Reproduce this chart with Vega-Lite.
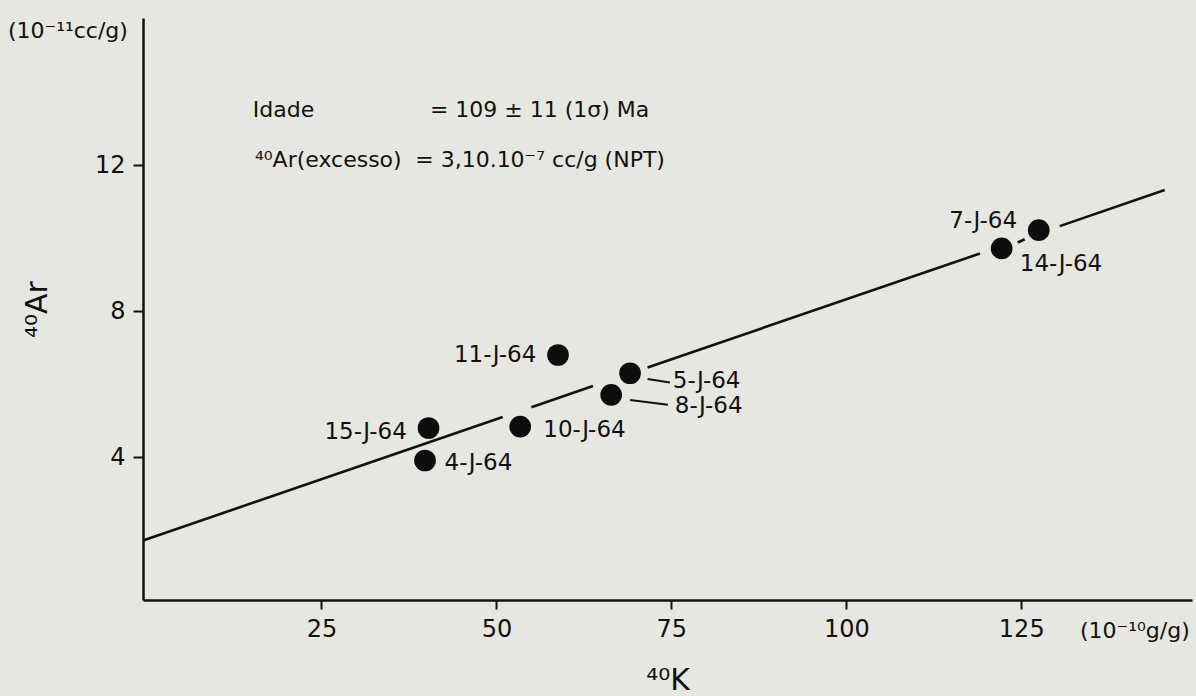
{
  "$schema": "https://vega.github.io/schema/vega-lite/v6.json",
  "width": 1049,
  "height": 582,
  "autosize": "none",
  "padding": {"left": 143, "top": 18, "right": 4, "bottom": 96},
  "background": "#e7e7e1",
  "config": {
    "view": {"stroke": null},
    "font": "DejaVu Sans",
    "axis": {
      "domainColor": "#111111",
      "domainWidth": 2.5,
      "tickColor": "#111111",
      "tickWidth": 2,
      "grid": false,
      "labelColor": "#111111",
      "labelFont": "DejaVu Sans",
      "labelFontSize": 24,
      "titleColor": "#111111",
      "titleFont": "DejaVu Sans",
      "titleFontWeight": "normal",
      "titleFontSize": 30
    }
  },
  "datasets": {
    "points": [
      {"sample": "7-J-64", "k": 127.5, "ar": 10.22},
      {"sample": "14-J-64", "k": 122.2, "ar": 9.72},
      {"sample": "11-J-64", "k": 58.8, "ar": 6.80},
      {"sample": "5-J-64", "k": 69.1, "ar": 6.30},
      {"sample": "8-J-64", "k": 66.4, "ar": 5.71},
      {"sample": "10-J-64", "k": 53.4, "ar": 4.84},
      {"sample": "15-J-64", "k": 40.3, "ar": 4.80},
      {"sample": "4-J-64", "k": 39.8, "ar": 3.91}
    ],
    "isochron": [
      {"seg": "A", "k": -0.5, "ar": 1.72},
      {"seg": "A", "k": 50.9, "ar": 5.10},
      {"seg": "B", "k": 55.0, "ar": 5.37},
      {"seg": "B", "k": 63.8, "ar": 5.95},
      {"seg": "C", "k": 71.6, "ar": 6.46},
      {"seg": "C", "k": 119.1, "ar": 9.58},
      {"seg": "D", "k": 124.5, "ar": 9.88},
      {"seg": "D", "k": 125.5, "ar": 9.97},
      {"seg": "E", "k": 130.5, "ar": 10.33},
      {"seg": "E", "k": 145.5, "ar": 11.32}
    ],
    "leaders": [
      {"sample": "5-J-64", "k": 71.6, "ar": 6.14, "k2": 74.8, "ar2": 6.05},
      {"sample": "8-J-64", "k": 69.1, "ar": 5.57, "k2": 74.5, "ar2": 5.44}
    ],
    "labelsRight": [
      {"sample": "7-J-64", "k": 124.4, "ar": 10.47},
      {"sample": "11-J-64", "k": 55.7, "ar": 6.80},
      {"sample": "15-J-64", "k": 37.2, "ar": 4.70}
    ],
    "labelsLeft": [
      {"sample": "14-J-64", "k": 124.8, "ar": 9.29},
      {"sample": "4-J-64", "k": 42.6, "ar": 3.84},
      {"sample": "10-J-64", "k": 56.7, "ar": 4.75},
      {"sample": "5-J-64", "k": 75.2, "ar": 6.08},
      {"sample": "8-J-64", "k": 75.5, "ar": 5.39}
    ],
    "notes": [
      {"text": "Idade", "k": 15.2, "ar": 13.32},
      {"text": "= 109 ± 11 (1σ) Ma", "k": 40.5, "ar": 13.32},
      {"text": "⁴⁰Ar(excesso)", "k": 15.5, "ar": 11.95},
      {"text": "= 3,10.10⁻⁷ cc/g (NPT)", "k": 38.4, "ar": 11.95}
    ],
    "units": [
      {"text": "(10⁻¹¹cc/g)", "k": -19.8, "ar": 15.67},
      {"text": "(10⁻¹⁰g/g)", "k": 133.4, "ar": -0.75}
    ]
  },
  "encoding": {
    "x": {
      "field": "k",
      "type": "quantitative",
      "scale": {"domain": [-0.5, 149.4], "nice": false, "zero": false},
      "axis": {"values": [25, 50, 75, 100, 125], "tickSize": 9, "labelPadding": 8, "title": "⁴⁰K", "titlePadding": 24}
    },
    "y": {
      "field": "ar",
      "type": "quantitative",
      "scale": {"domain": [0.09, 16.03], "nice": false, "zero": false},
      "axis": {"values": [4, 8, 12], "tickSize": 10, "labelPadding": 8, "title": "⁴⁰Ar", "titlePadding": 42}
    }
  },
  "layer": [
    {
      "data": {"name": "isochron"},
      "mark": {"type": "line", "color": "#111111", "strokeWidth": 2.6, "clip": false},
      "encoding": {"detail": {"field": "seg"}}
    },
    {
      "data": {"name": "leaders"},
      "mark": {"type": "rule", "color": "#111111", "strokeWidth": 2},
      "encoding": {
        "x2": {"field": "k2"},
        "y2": {"field": "ar2"}
      }
    },
    {
      "data": {"name": "points"},
      "mark": {"type": "circle", "color": "#0d0d0d", "opacity": 1, "size": 470},
      "encoding": {"tooltip": {"field": "sample"}}
    },
    {
      "data": {"name": "labelsRight"},
      "mark": {"type": "text", "align": "right", "baseline": "middle", "fontSize": 23, "color": "#111111"},
      "encoding": {"text": {"field": "sample"}}
    },
    {
      "data": {"name": "labelsLeft"},
      "mark": {"type": "text", "align": "left", "baseline": "middle", "fontSize": 23, "color": "#111111"},
      "encoding": {"text": {"field": "sample"}}
    },
    {
      "data": {"name": "notes"},
      "mark": {"type": "text", "align": "left", "baseline": "alphabetic", "fontSize": 22, "color": "#111111"},
      "encoding": {"text": {"field": "text"}}
    },
    {
      "data": {"name": "units"},
      "mark": {"type": "text", "align": "left", "baseline": "middle", "fontSize": 22, "color": "#111111", "clip": false},
      "encoding": {"text": {"field": "text"}}
    }
  ]
}
